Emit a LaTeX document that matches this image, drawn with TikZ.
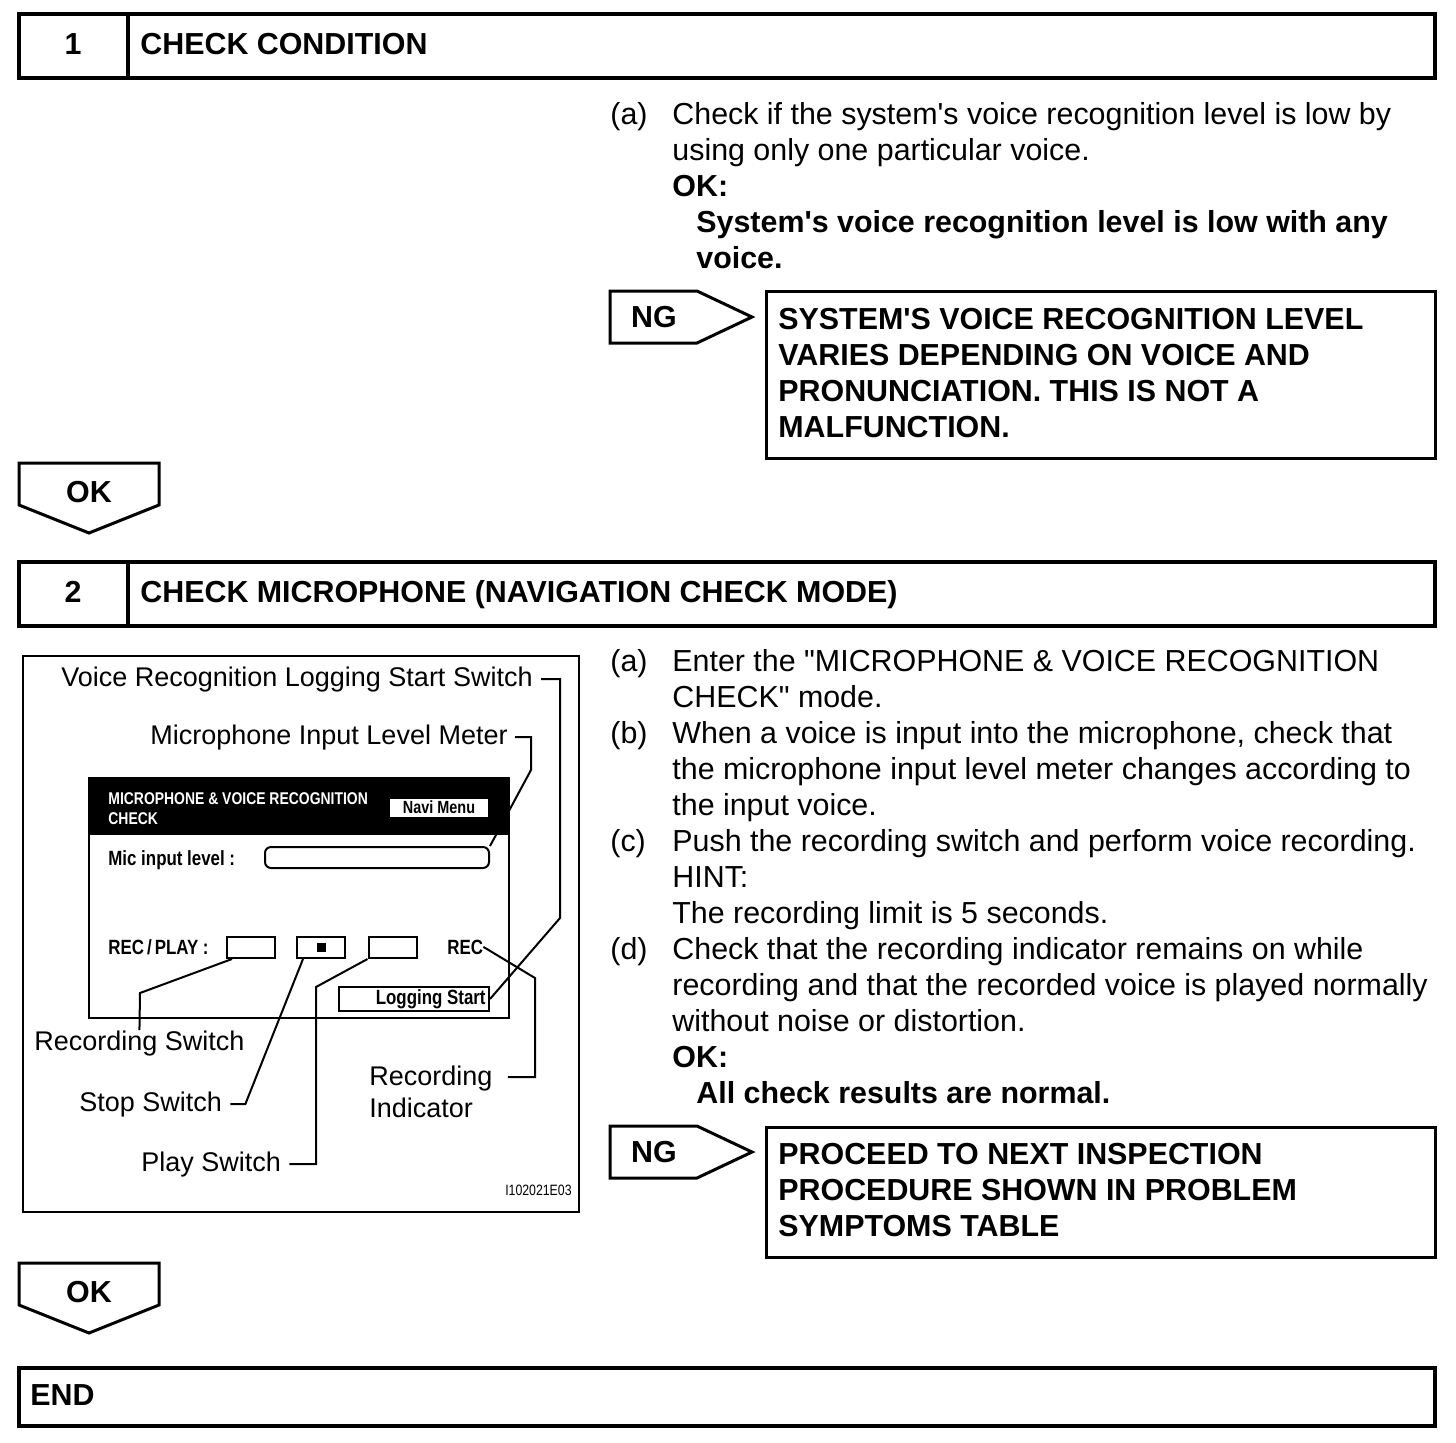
\documentclass[tikz,border=0pt]{standalone}
\usepackage{fontspec}
\setmainfont{Liberation Sans}
\newfontfamily\scrfont[FakeStretch=0.82]{Liberation Sans}
\usetikzlibrary{calc}

\newcommand\mainsize{\fontsize{15.2}{18}\selectfont}
\newcommand\figsize{\fontsize{13.5}{16}\selectfont}
\newcommand\ap{\textquotesingle}

\tikzset{
	txt/.style={font=\mainsize, inner sep=0, anchor=base west, align=left},
	btxt/.style={txt, font=\mainsize\bfseries},
	frame/.style={draw, line width=1.7pt},
	arrowbox/.style={draw, line width=1.5pt, line join=miter},
	figlabel/.style={font=\figsize, inner sep=0, align=left},
	scrtext/.style={font=\scrfont\bfseries\fontsize{10.3}{12}\selectfont, inner sep=1pt},
	scrbox/.style={draw, line width=1pt, inner sep=0},
	leader/.style={line width=1pt},
}

\begin{document}
\begin{tikzpicture}[x=0.5pt, y=-0.5pt]
	\useasboundingbox (0,0) rectangle (1456,1442);
	
	% step headers
	\foreach \n/\y/\t in {1/14/CHECK CONDITION, 2/562/CHECK MICROPHONE (NAVIGATION CHECK MODE)} {
		\draw[frame] (19,\y) rectangle (1435,\y+64);
		\draw[frame] (128,\y) -- (128,\y+64);
		\node[btxt, anchor=center] (num-\n) at (73,\y+30) {\n};
		\node[btxt] (title-\n) at (140,\y+40) {\t};
	}
	\draw[frame] (19,1368) rectangle (1435,1426);
	\node[btxt] (end) at (30,1405) {END};
	
	% OK arrows
	\foreach \y [count=\i] in {463,1263} {
		\draw[arrowbox] (19,\y) -- (159,\y) -- (159,\y+42) -- (89,\y+70) -- (19,\y+42) -- cycle;
		\node[btxt, anchor=center] (ok-\i) at (89,\y+29) {OK};
	}
	
	% NG arrows
	\foreach \y [count=\i] in {291,1126} {
		\draw[arrowbox] (610,\y) -- (697,\y) -- (752,\y+26) -- (697,\y+52) -- (610,\y+52) -- cycle;
		\node[btxt, anchor=center] (ng-\i) at (654,\y+26) {NG};
	}
	
	% step 1 text (multi-line nodes sit on their last baseline)
	\node[txt] (lbl-1a) at (610,124) {(a)};
	\node[txt] (step-1a) at (672,160) {Check if the system\ap s voice recognition level is low by\\using only one particular voice.};
	\node[btxt] (okay-1) at (672,196) {OK:};
	\node[btxt] (cond-1) at (696,268) {System\ap s voice recognition level is low with any\\voice.};
	
	\draw[arrowbox] (766,291) rectangle (1435,458);
	\node[btxt] (res-1) at (778,437) {SYSTEM\ap S VOICE RECOGNITION LEVEL\\VARIES DEPENDING ON VOICE AND\\PRONUNCIATION. THIS IS NOT A\\MALFUNCTION.};
	
	% step 2 text
	\foreach \l/\y in {a/671, b/743, c/851, d/959}
	\node[txt] (lbl-2\l) at (610,\y) {(\l)};
	
	\node[txt] (step-2a) at (672,707) {Enter the \textquotedbl MICROPHONE \& VOICE RECOGNITION\\CHECK\textquotedbl\ mode.};
	\node[txt] (step-2b) at (672,815) {When a voice is input into the microphone, check that\\the microphone input level meter changes according to\\the input voice.};
	\node[txt] (step-2c) at (672,923) {Push the recording switch and perform voice recording.\\HINT:\\The recording limit is 5 seconds.};
	\node[txt] (step-2d) at (672,1031) {Check that the recording indicator remains on while\\recording and that the recorded voice is played normally\\without noise or distortion.};
	\node[btxt] (okay-2) at (672,1067) {OK:};
	\node[btxt] (cond-2) at (696,1103) {All check results are normal.};
	
	\draw[arrowbox] (766,1127) rectangle (1435,1257);
	\node[btxt] (res-2) at (778,1236) {PROCEED TO NEXT INSPECTION\\PROCEDURE SHOWN IN PROBLEM\\SYMPTOMS TABLE};
	
	% figure
	\draw[line width=1.2pt] (23,656) rectangle (579,1212);
	
	% screen
	\fill (89,778) rectangle (509,835);
	\draw[line width=1.2pt] (89,778) rectangle (509,1018);
	\node[scrtext, font=\scrfont\bfseries\fontsize{8.5}{10}\selectfont, text=white, anchor=base west, align=left, inner sep=0] (scr-title) at (108,824) {MICROPHONE \& VOICE RECOGNITION\\CHECK};
	\node[scrbox, fill=white, minimum width=50pt, minimum height=10pt] (navi) at (439,807.5) {};
	\node[scrtext, font=\scrfont\bfseries\fontsize{8.8}{10}\selectfont] (navi-txt) at (navi) {Navi Menu};
	
	\node[scrtext, anchor=base west, inner sep=0] (mic-txt) at (108,865) {Mic input level :};
	\node[scrbox, rounded corners=3pt, minimum width=112pt, minimum height=10.5pt] (meter) at (377,857.5) {};
	
	\node[scrtext, anchor=base west, inner sep=0] (recplay-txt) at (108,954) {REC\kern1.5pt/\kern1.5pt PLAY :};
	\foreach \x/\n in {251/rec, 321/stop, 392.5/play}
	\node[scrbox, minimum width=24pt, minimum height=10.5pt] (\n box) at (\x,947.5) {};
	\node[fill, inner sep=0, minimum size=4.5pt] (stopmark) at (stopbox) {};
	\node[scrtext, anchor=base west, inner sep=0] (rec) at (447,954) {REC};
	
	\node[scrbox, minimum width=75pt, minimum height=12pt, anchor=north west] (logbox) at (338,986) {};
	\node[scrtext, anchor=base east, inner sep=0] (log-txt) at (486,1004) {Logging Start};
	
	% labels
	\node[figlabel, anchor=base east] (vrls) at (533,686) {Voice Recognition Logging Start Switch};
	\node[figlabel, anchor=base east] (milm) at (508,744) {Microphone Input Level Meter};
	\node[figlabel, anchor=base west] (recsw) at (34,1050) {Recording Switch};
	\node[figlabel, anchor=base west] (stopsw) at (79,1111) {Stop Switch};
	\node[figlabel, anchor=base west] (playsw) at (141,1171) {Play Switch};
	\node[figlabel, anchor=base west] (recind) at (369,1117) {Recording\\Indicator};
	\node[scrtext, font=\scrfont\fontsize{7.5}{9}\selectfont, anchor=base east, inner sep=0] (fig-id) at (572,1195) {I102021E03};
	
	% leaders
	\draw[leader] (vrls.east) ++(8,0) -| (560,918) -- (logbox.east);
	\draw[leader] (milm.east) ++(7,0) -| (531,770) -- (meter.north east);
	\draw[leader] ($(recbox.south west)+(6,0)$) -- (140,993) -- (recsw.north);
	\draw[leader] (stopsw.east) ++(8,0) -- ++(15,0) -- ($(stopbox.south west)+(7,0)$);
	\draw[leader] (playsw.east) ++(8,0) -| (316,987) -- (playbox.south west);
	\draw[leader] (recind.north east) ++(15,12) -| (535,978) -- (rec.east);
\end{tikzpicture}
\end{document}
